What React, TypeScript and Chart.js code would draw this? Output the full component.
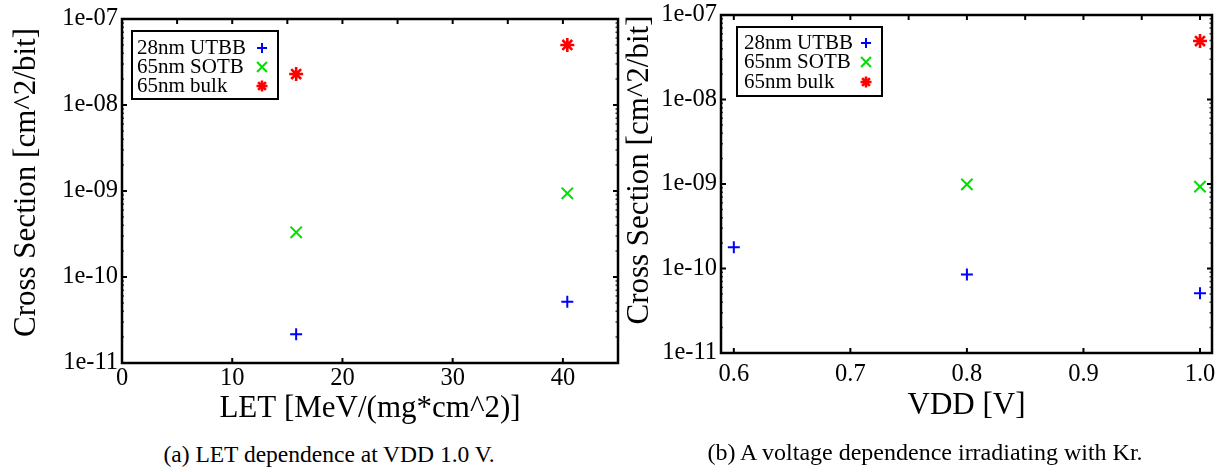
import React, { useEffect, useRef } from 'react';
import { Chart, registerables } from 'chart.js';
import { drawPoint } from 'chart.js/helpers';

Chart.register(...registerables);

const FONT = "'Liberation Serif', 'DejaVu Serif', 'Times New Roman', serif";

// ---- series definitions ----
const SERIES_NAMES = ['28nm UTBB', '65nm SOTB', '65nm bulk'];
const SERIES_COLORS = ['#0000ff', '#00e000', '#ff0000'];
const SERIES_MARKERS = ['cross', 'crossRot', 'star'];
const DATA_RADII = [6, 8, 7];
const DATA_WIDTHS = [2, 2, 2.6];
const LEGEND_RADII = [5, 7, 5.5];

// ---- (a) LET dependence at VDD 1.0 V ----
const LET_X = [15.8, 40.4];
const LET_UTBB = [2.16e-11, 5.16e-11];
const LET_SOTB = [3.31e-10, 9.4e-10];
const LET_BULK = [2.29e-8, 4.99e-8];

// ---- (b) voltage dependence with Kr ----
const VDD_UTBB_X = [0.6, 0.8, 1.0];
const VDD_UTBB = [1.78e-10, 8.5e-11, 5.09e-11];
const VDD_SOTB_X = [0.8, 1.0];
const VDD_SOTB = [9.9e-10, 9.3e-10];
const VDD_BULK_X = [1.0];
const VDD_BULK = [4.92e-8];

// ---- ticks ----
const Y_TICKS = [1e-11, 1e-10, 1e-9, 1e-8, 1e-7];
const Y_TICK_LABELS = ['1e-11', '1e-10', '1e-09', '1e-08', '1e-07'];
const LET_TICKS = [0, 10, 20, 30, 40];
const LET_TICK_LABELS = ['0', '10', '20', '30', '40'];
const LET_TOP_TICKS = [5, 10, 15, 20, 25, 30, 35, 40];
const VDD_TICKS = [0.6, 0.7, 0.8, 0.9, 1.0];
const VDD_TICK_LABELS = ['0.6', '0.7', '0.8', '0.9', '1.0'];
const VDD_TOP_TICKS = [0.6, 0.65, 0.7, 0.75, 0.8, 0.85, 0.9, 0.95, 1.0];

const Y_TITLE = 'Cross Section [cm^2/bit]';

const framePlugin = {
  id: 'frame',
  beforeDatasetsDraw(chart: any, _args: any, opts: any) {
    const { ctx, chartArea: a } = chart;
    const xs = chart.scales.x;
    const ys = chart.scales.y;
    ctx.save();
    ctx.strokeStyle = '#000';
    ctx.lineWidth = 2;
    ctx.beginPath();
    for (const v of opts.bottomTicks) {
      const p = xs.getPixelForValue(v);
      ctx.moveTo(p, a.bottom);
      ctx.lineTo(p, a.bottom - 5);
    }
    for (const v of opts.topTicks) {
      const p = xs.getPixelForValue(v);
      ctx.moveTo(p, a.top);
      ctx.lineTo(p, a.top + 5);
    }
    for (const v of Y_TICKS) {
      const p = ys.getPixelForValue(v);
      ctx.moveTo(a.left, p);
      ctx.lineTo(a.left + 5, p);
      ctx.moveTo(a.right, p);
      ctx.lineTo(a.right - 5, p);
    }
    ctx.stroke();
    ctx.lineWidth = 1.5;
    ctx.strokeStyle = '#444';
    ctx.beginPath();
    for (let i = 0; i < Y_TICKS.length - 1; i++) {
      for (let m = 2; m <= 9; m++) {
        const p = ys.getPixelForValue(Y_TICKS[i] * m);
        ctx.moveTo(a.right, p);
        ctx.lineTo(a.right - 2.5, p);
        ctx.moveTo(a.left, p);
        ctx.lineTo(a.left + 2, p);
      }
    }
    ctx.stroke();
    ctx.strokeStyle = '#000';
    ctx.lineWidth = 2.5;
    ctx.strokeRect(a.left, a.top, a.right - a.left, a.bottom - a.top);
    ctx.restore();
  },
  afterDraw(chart: any, _args: any, opts: any) {
    const { ctx, chartArea: a } = chart;
    ctx.save();
    // legend box
    const bx = a.left + opts.legendDx;
    const by = a.top + opts.legendDy;
    ctx.fillStyle = '#fff';
    ctx.fillRect(bx, by, opts.legendW, opts.legendH);
    ctx.strokeStyle = '#000';
    ctx.lineWidth = 2;
    ctx.strokeRect(bx, by, opts.legendW, opts.legendH);
    ctx.font = `21px ${FONT}`;
    ctx.textBaseline = 'middle';
    ctx.textAlign = 'left';
    SERIES_NAMES.forEach((name, i) => {
      const ly = by + opts.legendRows[i];
      ctx.fillStyle = '#000';
      ctx.fillText(name, bx + opts.textDx, ly);
      ctx.strokeStyle = SERIES_COLORS[i];
      ctx.fillStyle = SERIES_COLORS[i];
      ctx.lineWidth = DATA_WIDTHS[i];
      drawPoint(ctx, { pointStyle: SERIES_MARKERS[i], radius: LEGEND_RADII[i], borderWidth: DATA_WIDTHS[i], rotation: 0 } as any, bx + opts.markerDx, ly);
    });
    // y axis title
    ctx.translate(opts.yTitleX, (a.top + a.bottom) / 2 - opts.yTitleShift);
    ctx.rotate(-Math.PI / 2);
    ctx.font = `31px ${FONT}`;
    ctx.fillStyle = '#000';
    ctx.textAlign = 'center';
    ctx.textBaseline = 'middle';
    ctx.fillText(Y_TITLE, 0, 0);
    ctx.restore();
  },
};

function dataset(i: number, xs: number[], ys: number[]) {
  return {
    label: SERIES_NAMES[i],
    data: xs.map((x, k) => ({ x, y: ys[k] })),
    pointStyle: SERIES_MARKERS[i],
    pointRadius: DATA_RADII[i],
    pointHoverRadius: DATA_RADII[i],
    pointBorderWidth: DATA_WIDTHS[i],
    borderColor: SERIES_COLORS[i],
    backgroundColor: SERIES_COLORS[i],
    showLine: false,
    clip: false,
  };
}

function makeConfig(p: any) {
  return {
    type: 'scatter',
    data: { datasets: p.datasets },
    plugins: [framePlugin],
    options: {
      animation: false,
      responsive: false,
      maintainAspectRatio: false,
      events: [],
      layout: { padding: p.padding, autoPadding: false },
      plugins: {
        legend: { display: false },
        tooltip: { enabled: false },
        title: { display: false },
        frame: p.frame,
      },
      scales: {
        x: {
          type: 'linear',
          min: p.xMin,
          max: p.xMax,
          afterBuildTicks: (s: any) => {
            s.ticks = p.xTicks.map((value: number) => ({ value }));
          },
          afterFit: (s: any) => {
            s.height = p.xAxisH;
            s.paddingLeft = 0;
            s.paddingRight = 0;
          },
          ticks: {
            callback: (_v: any, i: number) => p.xLabels[i],
            font: { size: 24.5, family: FONT },
            color: '#000',
            padding: p.xPad,
            maxRotation: 0,
            autoSkip: false,
          },
          grid: { display: false, drawTicks: false },
          border: { display: false },
          title: {
            display: true,
            text: p.xTitle,
            color: '#000',
            font: { size: 31, family: FONT },
            padding: 0,
          },
        },
        y: {
          type: 'logarithmic',
          min: 1e-11,
          max: 1e-7,
          afterBuildTicks: (s: any) => {
            s.ticks = Y_TICKS.map((value) => ({ value }));
          },
          afterFit: (s: any) => {
            s.width = p.yAxisW;
            s.paddingTop = 0;
            s.paddingBottom = 0;
          },
          ticks: {
            callback: (_v: any, i: number) => Y_TICK_LABELS[i],
            font: { size: 24.5, family: FONT },
            color: '#000',
            padding: 4,
            autoSkip: false,
          },
          grid: { display: false, drawTicks: false },
          border: { display: false },
        },
      },
    },
  };
}

const letConfig = () =>
  makeConfig({
    datasets: [dataset(0, LET_X, LET_UTBB), dataset(1, LET_X, LET_SOTB), dataset(2, LET_X, LET_BULK)],
    padding: { top: 19, left: 0, right: 2, bottom: 13 },
    xMin: 0,
    xMax: 45,
    xTicks: LET_TICKS,
    xLabels: LET_TICK_LABELS,
    xTitle: 'LET [MeV/(mg*cm^2)]',
    xAxisH: 64,
    xPad: 1,
    yAxisW: 122,
    frame: {
      bottomTicks: LET_TICKS,
      topTicks: LET_TOP_TICKS,
      legendDx: 10,
      legendDy: 12,
      legendW: 146,
      legendH: 68,
      legendRows: [17, 36, 55],
      textDx: 5,
      markerDx: 130,
      yTitleX: 27,
      yTitleShift: 8.5,
    },
  });

const vddConfig = () =>
  makeConfig({
    datasets: [
      dataset(0, VDD_UTBB_X, VDD_UTBB),
      dataset(1, VDD_SOTB_X, VDD_SOTB),
      dataset(2, VDD_BULK_X, VDD_BULK),
    ],
    padding: { top: 15, left: 0, right: 17, bottom: 16 },
    xMin: 0.589,
    xMax: 1.0103,
    xTicks: VDD_TICKS,
    xLabels: VDD_TICK_LABELS,
    xTitle: 'VDD [V]',
    xAxisH: 71,
    xPad: 7,
    yAxisW: 101,
    frame: {
      bottomTicks: VDD_TICKS,
      topTicks: VDD_TOP_TICKS,
      legendDx: 16,
      legendDy: 12,
      legendW: 145,
      legendH: 69,
      legendRows: [16, 35, 55],
      textDx: 7,
      markerDx: 129,
      yTitleX: 20,
      yTitleShift: 14,
    },
  });

function ChartCanvas({ makeCfg, left, width, height }: any) {
  const ref = useRef<HTMLCanvasElement | null>(null);
  useEffect(() => {
    const chart = new Chart(ref.current as HTMLCanvasElement, makeCfg() as any);
    return () => chart.destroy();
  }, []);
  return (
    <canvas
      ref={ref}
      width={width}
      height={height}
      style={{ position: 'absolute', left, top: 0, width, height, display: 'block' }}
    />
  );
}

const captionStyle: React.CSSProperties = {
  position: 'absolute',
  width: 600,
  textAlign: 'center',
  fontFamily: FONT,
  lineHeight: '28px',
  color: '#000',
  whiteSpace: 'nowrap',
};

export default function App() {
  return (
    <div style={{ position: 'absolute', left: 0, top: 0, width: 1229, height: 472, background: '#fff', overflow: 'hidden' }}>
      <ChartCanvas makeCfg={letConfig} left={0} width={620} height={440} />
      <ChartCanvas makeCfg={vddConfig} left={620} width={609} height={440} />
      <div style={{ ...captionStyle, fontSize: 23.5, left: 29, top: 440 }}>(a) LET dependence at VDD 1.0 V.</div>
      <div style={{ ...captionStyle, fontSize: 24, left: 625, top: 438 }}>(b) A voltage dependence irradiating with Kr.</div>
    </div>
  );
}
